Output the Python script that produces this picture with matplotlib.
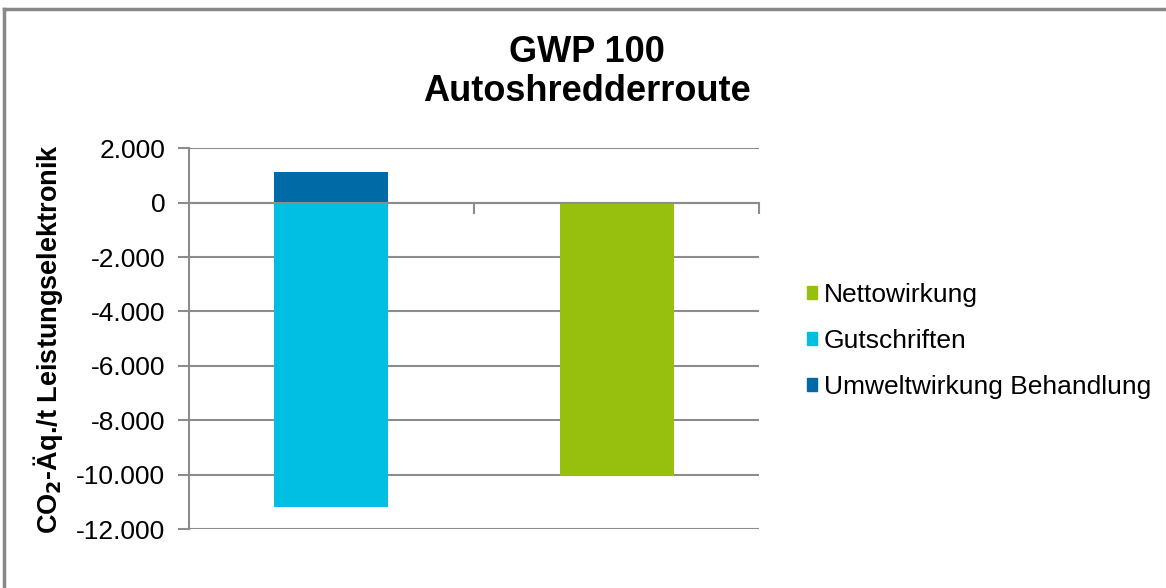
import matplotlib
matplotlib.use('Agg')
import matplotlib.pyplot as plt
from matplotlib.patches import Patch
from matplotlib.lines import Line2D
from matplotlib.ticker import FuncFormatter, FixedLocator

plt.rcParams['font.family'] = ['Liberation Sans', 'DejaVu Sans']

# Data (t CO2-eq per t power electronics)
categories = ['Behandlung', 'Netto']
umweltwirkung = [1130, 0]
gutschriften = [-11180, 0]
nettowirkung = [0, -10050]

yticks = [-12000, -10000, -8000, -6000, -4000, -2000, 0, 2000]

col_dark = '#006AA6'
col_light = '#00BFE1'
col_green = '#97C00E'
grid_col = '#8C8C8C'

fig = plt.figure(figsize=(11.66, 5.88), dpi=100)
ax = fig.add_axes([0.162, 0.100, 0.489, 0.648])

x = range(len(categories))
ax.bar(x, umweltwirkung, width=0.4, color=col_dark)
ax.bar(x, gutschriften, width=0.4, color=col_light)
ax.bar(x, nettowirkung, width=0.4, color=col_green)

ax.set_xlim(-0.5, 1.5)
ax.set_ylim(-12000, 2000)
ax.set_yticks(yticks)
ax.yaxis.set_major_formatter(FuncFormatter(lambda v, p: f'{int(v):,}'.replace(',', '.')))
ax.tick_params(axis='y', labelsize=19, length=8, width=1.5, color=grid_col, pad=9)

# category boundaries as ticks on the zero line
ax.xaxis.set_major_locator(FixedLocator([0.5, 1.5]))
ax.set_xticklabels([])
ax.tick_params(axis='x', direction='out', length=8, width=1.5, color=grid_col)

ax.grid(axis='y', color=grid_col, linewidth=1.5)
ax.set_axisbelow(True)
for s in ['top', 'right']:
    ax.spines[s].set_visible(False)
ax.spines['bottom'].set_position(('data', 0))
ax.spines['bottom'].set_color(grid_col)
ax.spines['bottom'].set_linewidth(1.5)
ax.spines['left'].set_color(grid_col)
ax.spines['left'].set_linewidth(1.5)

ax.set_ylabel('CO$_\\mathbf{2}$-Äq./t Leistungselektronik', fontsize=19.5, fontweight='bold')
ax.yaxis.set_label_coords(-0.218, 0.5)

fig.text(0.503, 1 - 62 / 588, 'GWP 100', ha='center', va='baseline', fontsize=26, fontweight='bold')
fig.text(0.503, 1 - 101 / 588, 'Autoshredderroute', ha='center', va='baseline', fontsize=26, fontweight='bold')

handles = [Patch(color=col_green, label='Nettowirkung'),
           Patch(color=col_light, label='Gutschriften'),
           Patch(color=col_dark, label='Umweltwirkung Behandlung')]
fig.legend(handles=handles, loc='center left', bbox_to_anchor=(807 / 1166, 1 - 341 / 588),
           frameon=False, fontsize=19, handlelength=0.38, handleheight=0.38,
           handletextpad=0.25, labelspacing=0.82, borderaxespad=0, borderpad=0)

# outer chart frame (left and top edges visible)
fig.add_artist(Line2D([4 / 1166, 4 / 1166], [0, 1 - 9 / 588], transform=fig.transFigure,
                      color='#888888', linewidth=2.5))
fig.add_artist(Line2D([4 / 1166, 1], [1 - 9 / 588, 1 - 9 / 588], transform=fig.transFigure,
                      color='#888888', linewidth=2.5))

plt.savefig('out.png', dpi=100)
